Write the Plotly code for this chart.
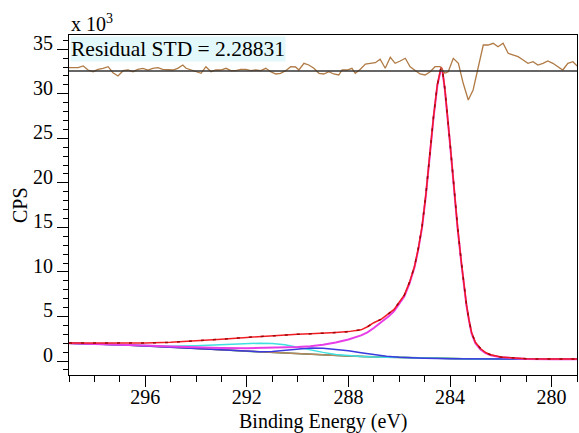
import plotly.graph_objects as go

# ---------------- data ----------------
# Binding energy grid for envelope / main component (eV)
E_env = [299, 298, 297, 296, 295, 294, 293, 292, 291, 290,
         289.5, 289, 288.5, 288, 287.5, 287.25, 287, 286.7, 286.4, 286.2,
         286, 285.8, 285.6, 285.4, 285.25, 285.1, 284.95, 284.8, 284.65, 284.5,
         284.4, 284.35, 284.3, 284.2, 284.0, 283.85, 283.7, 283.55, 283.45, 283.35,
         283.25, 283.15, 283.0, 282.8, 282.6, 282.4, 282.0, 281.5, 281.0, 280.0, 279.0]
# Envelope (x10^3 CPS)
I_env = [2.02, 2.0, 2.0, 2.02, 2.1, 2.25, 2.45, 2.65, 2.85, 3.0,
         3.05, 3.1, 3.2, 3.3, 3.5, 3.85, 4.3, 4.7, 5.3, 5.8,
         6.6, 7.4, 8.8, 10.6, 12.6, 15.1, 18.7, 23.2, 27.4, 31.0,
         32.6, 33.0, 32.7, 30.5, 24.5, 19.5, 15.0, 11.0, 8.5, 6.3,
         4.6, 3.2, 2.1, 1.4, 0.95, 0.7, 0.45, 0.32, 0.25, 0.22, 0.22]
# Main C-C component (magenta)
I_main = [2.0, 1.93, 1.85, 1.73, 1.62, 1.52, 1.46, 1.44, 1.48, 1.57,
          1.66, 1.82, 2.08, 2.42, 2.88, 3.22, 3.7, 4.35, 5.05, 5.6,
          6.4, 7.25, 8.65, 10.5, 12.5, 15.0, 18.6, 23.1, 27.3, 30.9,
          32.5, 32.9, 32.6, 30.4, 24.4, 19.4, 14.9, 10.9, 8.4, 6.2,
          4.5, 3.1, 2.0, 1.3, 0.88, 0.64, 0.42, 0.3, 0.24, 0.21, 0.21]

# Shirley background (brown)
E_bg = [299, 298, 297, 296, 295, 294, 293, 292, 291, 290, 289, 288, 287, 286,
        285, 284, 283, 282, 281, 280, 279]
I_bg = [2.0, 1.93, 1.83, 1.68, 1.53, 1.38, 1.23, 1.08, 0.93, 0.79, 0.66, 0.55,
        0.46, 0.39, 0.32, 0.26, 0.23, 0.22, 0.22, 0.22, 0.22]

# Cyan component
E_cyan = [299, 298, 297, 296, 295, 294, 293, 292, 291.5, 291, 290.5, 290, 289.5,
          289, 288.5, 288, 287.5, 287, 286, 285, 284, 283, 282, 281, 280, 279]
I_cyan = [2.0, 1.9, 1.8, 1.7, 1.65, 1.72, 1.85, 1.97, 2.0, 1.98, 1.82, 1.55, 1.25,
          0.97, 0.74, 0.6, 0.5, 0.46, 0.39, 0.32, 0.26, 0.23, 0.22, 0.22, 0.22, 0.22]

# Blue component
E_blue = [299, 298, 297, 296, 295, 294, 293, 292, 291.5, 291, 290.5, 290, 289.5,
          289, 288.5, 288, 287.5, 287, 286.5, 286, 285.5, 285, 284, 283, 282, 281, 280, 279]
I_blue = [2.0, 1.93, 1.83, 1.68, 1.54, 1.4, 1.26, 1.13, 1.05, 1.08, 1.22, 1.36, 1.45,
          1.43, 1.32, 1.14, 0.92, 0.72, 0.54, 0.43, 0.36, 0.32, 0.26, 0.23, 0.22, 0.22, 0.22, 0.22]

# Dark green component
E_green = [299, 297, 296, 295, 294.5, 294, 293, 292, 291, 290, 289, 288, 287, 286,
           285, 284, 283, 282, 279]
I_green = [2.0, 1.84, 1.7, 1.56, 1.5, 1.42, 1.26, 1.1, 0.95, 0.8, 0.67, 0.56, 0.47,
           0.39, 0.32, 0.26, 0.23, 0.22, 0.22]

# Residual (arbitrary units, plotted on its own strip)
E_res = [299.0, 298.64, 298.44, 298.25, 298.05, 297.86, 297.66, 297.46, 297.27, 297.07,
         296.87, 296.68, 296.48, 296.29, 296.09, 295.89, 295.70, 295.50, 295.31, 295.11,
         294.91, 294.72, 294.52, 294.39, 294.20, 294.00, 293.80, 293.61, 293.41, 293.22,
         293.02, 292.82, 292.63, 292.43, 292.24, 292.04, 291.84, 291.65, 291.45, 291.25,
         291.06, 290.86, 290.67, 290.47, 290.27, 290.08, 289.95, 289.75, 289.56, 289.36,
         289.16, 288.97, 288.77, 288.58, 288.38, 288.25, 288.05, 287.86, 287.73, 287.53,
         287.33, 287.14, 286.94, 286.75, 286.55, 286.35, 286.16, 285.96, 285.76, 285.57,
         285.37, 285.18, 284.98, 284.78, 284.59, 284.39, 284.20, 284.07, 283.87, 283.67,
         283.48, 283.28, 283.09, 282.89, 282.69, 282.50, 282.30, 282.11, 281.91, 281.71,
         281.52, 281.32, 281.12, 280.93, 280.73, 280.54, 280.34, 280.15, 279.95, 279.75,
         279.56, 279.36, 279.16, 278.97]
R_res = [0.33, 0.33, 0.5, 0.1, -0.07, 0.17, 0.27, 0.43, -0.17, -0.5,
         0.03, 0.1, -0.07, 0.17, 0.27, 0.1, 0.27, 0.33, 0.17, 0.1,
         0.1, 0.27, 0.6, 0.27, 0.1, -0.07, -0.23, 0.43, -0.07, 0.1,
         0.1, 0.27, 0.03, 0.03, 0.17, 0.17, 0.03, 0.1, 0.03, 0.27,
         -0.07, -0.3, -0.23, 0.03, 0.43, 0.4, 0.1, 0.77, 0.6, 0.27,
         -0.23, -0.3, -0.07, -0.3, -0.4, 0.1, 0.1, 0.27, -0.23, 0.17,
         0.7, 0.77, 0.83, 1.17, 0.27, 1.37, 0.77, 1.0, 1.27, 0.43,
         0.1, -0.3, -0.4, -0.07, 0.43, 0.43, -0.23, -0.07, 1.27, 0.77,
         -1.23, -2.9, -1.9, 0.43, 2.6, 2.6, 2.77, 2.43, 2.77, 1.77,
         1.6, 1.43, 1.1, 0.77, 0.93, 0.6, 0.77, 1.0, 0.77, 0.43,
         0.1, 0.77, 0.93, 0.43]

X_TICKS = [296, 292, 288, 284, 280]
Y_TICKS = [0, 5, 10, 15, 20, 25, 30, 35]
RES_TEXT = "Residual STD = 2.28831"

FONT = "Liberation Serif, Times New Roman, serif"

# ---------------- figure ----------------
fig = go.Figure()

def add_line(x, y, color, width=1.5, dash=None, yaxis="y"):
    fig.add_trace(go.Scatter(x=x, y=y, mode="lines", yaxis=yaxis,
                             line=dict(color=color, width=width, dash=dash),
                             hoverinfo="skip"))

add_line(E_green, I_green, "#1f7f62")
add_line(E_bg, I_bg, "#b8865a")
add_line(E_cyan, I_cyan, "#3fe0e0")
add_line(E_blue, I_blue, "#3a3ade")
add_line(E_env, I_main, "#e83ee8", width=2)
add_line(E_env, I_env, "#f01c24", width=1.5)
add_line(E_env, I_env, "#a00808", width=1.5, dash="3px,9px")
add_line(E_res, R_res, "#b07a45", width=1.3, yaxis="y2")

fig.add_shape(type="line", xref="paper", x0=0, x1=1, yref="y2", y0=0, y1=0,
              line=dict(color="#333333", width=1.3))

axis_common = dict(showline=True, linecolor="black", linewidth=1, mirror=True,
                   showgrid=False, zeroline=False, ticks="outside",
                   tickcolor="black", tickwidth=1, ticklen=11,
                   tickfont=dict(family=FONT, size=20, color="black"))

fig.update_layout(
    width=579, height=433,
    margin=dict(l=69, r=2, t=35, b=58),
    plot_bgcolor="white", paper_bgcolor="white",
    showlegend=False,
    font=dict(family=FONT, size=20, color="black"),
    xaxis=dict(range=[299, 279], tickmode="array", tickvals=X_TICKS,
               ticklabelstandoff=-7,
               minor=dict(dtick=1, tick0=279, ticks="outside", ticklen=6,
                          tickcolor="black", tickwidth=1),
               **axis_common),
    yaxis=dict(range=[-1.57, 36.6], tickmode="array", tickvals=Y_TICKS,
               ticklabelshift=-6,
               minor=dict(dtick=1, tick0=0, ticks="outside", ticklen=5,
                          tickcolor="black", tickwidth=1),
               **axis_common),
    yaxis2=dict(overlaying="y", range=[-30.4, 3.6], visible=False),
)

fig.add_annotation(text="CPS", textangle=-90, xref="paper", yref="paper",
                   x=-0.0965, y=0.5, xanchor="center", yanchor="middle",
                   showarrow=False, font=dict(family=FONT, size=20, color="black"))
fig.add_annotation(text="Binding Energy (eV)", xref="paper", yref="paper",
                   x=0.5, y=-0.138, xanchor="center", yanchor="middle",
                   showarrow=False, font=dict(family=FONT, size=20, color="black"))
fig.add_annotation(text="x 10<sup>3</sup>", xref="paper", yref="paper",
                   x=0, y=0.994, xanchor="left", yanchor="bottom",
                   showarrow=False, font=dict(family=FONT, size=20, color="black"))
fig.add_annotation(text=RES_TEXT, xref="paper", yref="paper",
                   x=0.002, y=0.997, xanchor="left", yanchor="top",
                   showarrow=False, bgcolor="#e3f8fa", borderpad=0,
                   font=dict(family=FONT, size=21.5, color="black"))

fig.write_html("out.html")
